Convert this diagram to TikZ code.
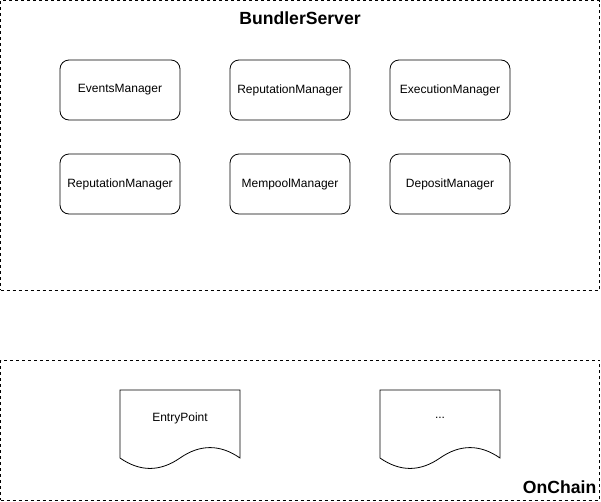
\documentclass[tikz,border=0pt]{standalone}
\usepackage{fontspec}
\setmainfont{Liberation Sans}
\begin{document}
\begin{tikzpicture}[x=1pt,y=-1pt,
  container/.style={draw=black, line width=0.8pt, dash pattern=on 3pt off 3pt, inner sep=0pt},
  mgr/.style={draw=black, line width=0.8pt, rounded corners=9pt, minimum width=120pt, minimum height=60pt, inner sep=0pt, font=\fontsize{12}{14}\selectfont},
  doclabel/.style={font=\fontsize{12}{14}\selectfont, inner sep=0pt},
  title/.style={font=\fontsize{17.6}{20}\selectfont\bfseries, inner sep=0pt},
  docshape/.style={draw=black, line width=0.8pt}
]
\useasboundingbox (0,0) rectangle (601,501);
% containers
\node[container, minimum width=599pt, minimum height=289.5pt] (server) at (300,145.25) {};
\node[container, minimum width=599pt, minimum height=140pt] (chain) at (300,430) {};
\node[title] (servertitle) at (300,18.5) {BundlerServer};
\node[title, anchor=east] (chaintitle) at (596.5,487.5) {OnChain};
% managers
\node[mgr] (events) at (120,90) {EventsManager};
\node[mgr] (rep1) at (290,90) {ReputationManager};
\node[mgr] (exec) at (450,90) {ExecutionManager};
\node[mgr] (rep2) at (120,184) {ReputationManager};
\node[mgr] (mempool) at (290,184) {MempoolManager};
\node[mgr] (deposit) at (450,184) {DepositManager};
% documents
\foreach \x/\n in {120/ep, 380/dots} {
  \draw[docshape] (\x,390) -- (\x+120,390) -- (\x+120,458)
    .. controls (\x+120-20,444.1) and (\x+60+20,444.1) .. (\x+60,458)
    .. controls (\x+60-20,471.9) and (\x+20,471.9) .. (\x,458) -- cycle;
}
\node[doclabel] (entrypoint) at (180,418) {EntryPoint};
\node[doclabel] (ellipsis) at (440,418) {...};
\end{tikzpicture}
\end{document}
